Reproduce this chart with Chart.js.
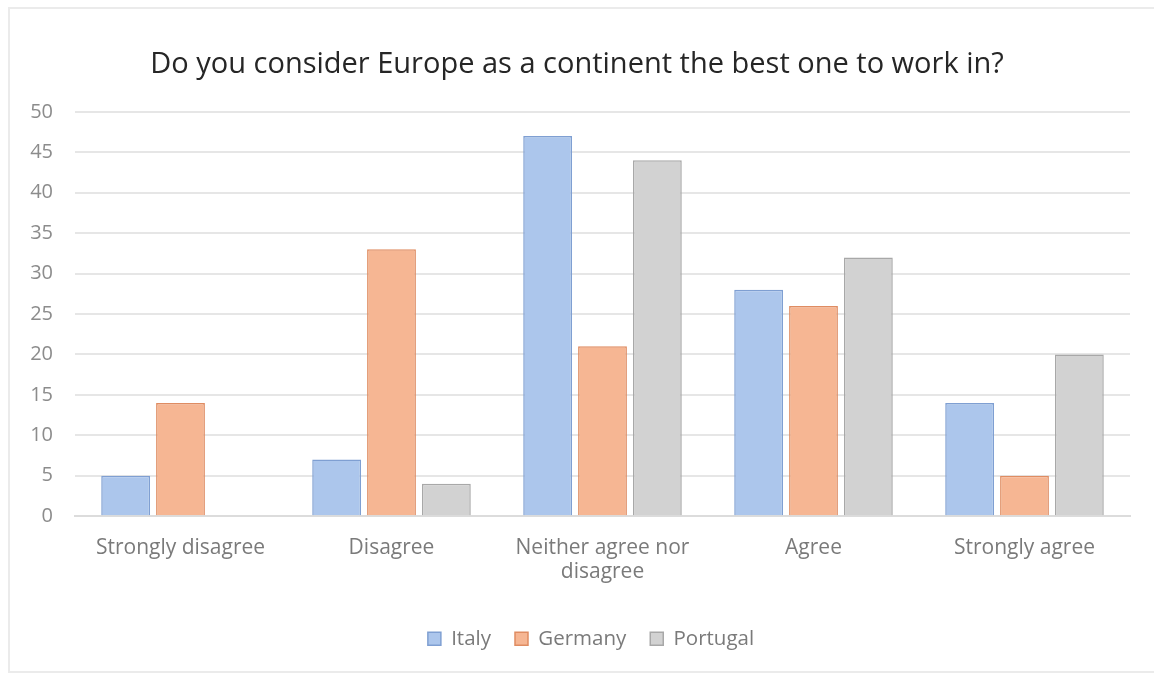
<!DOCTYPE html>
<html>
<head>
<meta charset="utf-8">
<title>Europe survey</title>
<script src="https://cdn.jsdelivr.net/npm/chart.js@4/dist/chart.umd.min.js"></script>
<style>
    html, body { margin: 0; padding: 0; background: #fff; overflow: hidden; }
    #wrap { position: relative; width: 1154px; height: 677px; }
    #frame {
        position: absolute; left: 8px; top: 7px; width: 1160px; height: 662px;
        border: 2px solid #ebebeb; pointer-events: none;
    }
</style>
</head>
<body>
<div id="wrap">
    <canvas id="surveyChart" width="1154" height="677"></canvas>
    <div id="frame"></div>
</div>
<script>
// answers to the question, one entry per category
const categories = [
    'Strongly disagree',
    'Disagree',
    ['Neither agree nor', 'disagree'],
    'Agree',
    'Strongly agree'
];
const italy = [5, 7, 47, 28, 14];
const germany = [14, 33, 21, 26, 5];
const portugal = [0, 4, 44, 32, 20];
const yTicks = [0, 5, 10, 15, 20, 25, 30, 35, 40, 45, 50];

const font = "'Open Sans', 'DejaVu Sans', sans-serif";

function series(label, data, fill, stroke) {
    return {
        label: label,
        data: data,
        backgroundColor: fill,
        borderColor: stroke,
        borderWidth: 1.5,
        barPercentage: 0.89,
        categoryPercentage: 0.78
    };
}

// nudge the legend a little to the right of centre
const legendShift = {
    id: 'legendShift',
    afterLayout: function(chart) {
        chart.legend.left += 14;
        chart.legend.right += 14;
    }
};

const ctx = document.getElementById('surveyChart').getContext('2d');
new Chart(ctx, {
    type: 'bar',
    plugins: [legendShift],
    data: {
        labels: categories,
        datasets: [
            series('Italy', italy, '#acc6ec', '#7f9fd2'),
            series('Germany', germany, '#f6b693', '#df8c62'),
            series('Portugal', portugal, '#d2d2d2', '#a8a8a8')
        ]
    },
    options: {
        responsive: false,
        animation: false,
        layout: { padding: { left: 0, right: 0, top: 47, bottom: 18 } },
        plugins: {
            title: {
                display: true,
                text: 'Do you consider Europe as a continent the best one to work in?',
                color: '#262626',
                font: { family: font, size: 29, weight: 'normal' },
                padding: { top: 0, bottom: 30 }
            },
            legend: {
                position: 'bottom',
                labels: {
                    color: '#7a7a7a',
                    font: { family: font, size: 20.5 },
                    boxWidth: 13,
                    boxHeight: 13,
                    padding: 24,
                    useBorderRadius: false
                }
            },
            tooltip: { enabled: false }
        },
        scales: {
            x: {
                grid: { display: false, drawTicks: false },
                border: { color: '#dcdcdc', width: 2 },
                ticks: {
                    color: '#7a7a7a',
                    font: { family: font, size: 21, lineHeight: 1.15 },
                    padding: 20,
                    maxRotation: 0
                }
            },
            y: {
                min: 0,
                max: 50,
                afterBuildTicks: function(axis) {
                    axis.ticks = yTicks.map(v => ({ value: v }));
                },
                afterFit: function(axis) {
                    axis.width = 75;
                },
                grid: { color: '#e6e6e6', lineWidth: 2, drawTicks: false },
                border: { display: false },
                ticks: {
                    color: '#8c8c8c',
                    font: { family: font, size: 20 },
                    padding: 22
                }
            },
            // empty strip on the right so the plot stops short of the edge
            yRight: {
                position: 'right',
                min: 0,
                max: 50,
                afterFit: function(axis) {
                    axis.width = 24;
                },
                grid: { display: false, drawTicks: false },
                border: { display: false },
                ticks: { display: false }
            }
        }
    }
});
</script>
</body>
</html>
